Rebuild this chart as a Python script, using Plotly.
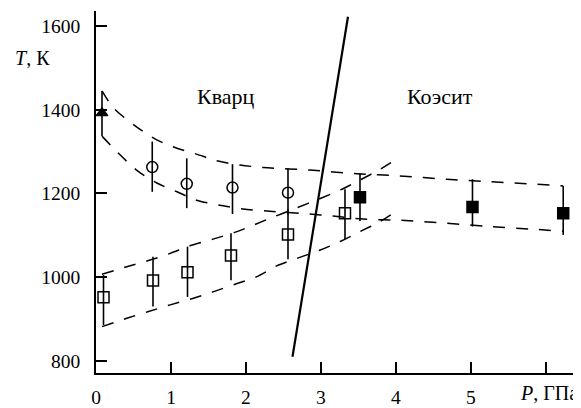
import plotly.graph_objects as go

# ---- data ----
tri_P = [0.08]
tri_T = [1392]
tri_ep = [53]
tri_em = [55]

circ_P = [0.75, 1.21, 1.82, 2.56]
circ_T = [1263, 1223, 1214, 1202]
circ_ep = [61, 61, 56, 58]
circ_em = [59, 58, 63, 52]

sq_P = [0.10, 0.76, 1.22, 1.80, 2.56, 3.32]
sq_T = [952, 992, 1012, 1052, 1102, 1153]
sq_ep = [53, 57, 61, 53, 60, 57]
sq_em = [66, 62, 59, 59, 59, 62]

fsq_P = [3.52, 5.02, 6.23]
fsq_T = [1191, 1168, 1153]
fsq_ep = [57, 66, 65]
fsq_em = [57, 47, 52]

# dashed envelopes
upQ_P = [0.08, 0.23, 0.54, 0.81, 1.08, 1.34, 1.61, 1.92, 2.23, 2.85, 3.48, 4.05, 4.68, 5.25, 5.88, 6.23]
upQ_T = [1445, 1405, 1359, 1328, 1308, 1294, 1278, 1268, 1262, 1256, 1247, 1242, 1234, 1228, 1222, 1218]
loQ_P = [0.08, 0.30, 0.54, 0.81, 1.08, 1.34, 1.65, 1.96, 2.28, 2.85, 3.16, 3.56, 4.05, 4.68, 5.25, 5.88, 6.23]
loQ_T = [1337, 1296, 1256, 1225, 1204, 1184, 1172, 1163, 1158, 1151, 1146, 1139, 1136, 1129, 1121, 1114, 1110]
upS_P = [0.08, 0.41, 0.72, 0.99, 1.25, 1.56, 1.88, 2.27, 2.68, 2.99, 3.30, 3.79, 4.00]
upS_T = [1007, 1025, 1041, 1057, 1075, 1091, 1109, 1137, 1166, 1188, 1212, 1258, 1281]
loS_P = [0.08, 0.41, 0.70, 0.99, 1.30, 1.56, 1.88, 2.14, 2.41, 2.68, 2.99, 3.25, 3.52, 3.79, 4.00]
loS_T = [882, 902, 918, 934, 950, 965, 985, 1001, 1027, 1045, 1065, 1085, 1109, 1133, 1157]

# phase boundary
bnd_P = [2.62, 3.36]
bnd_T = [810, 1622]

x_ticks = [0, 1, 2, 3, 4, 5, 6]
x_ticktext = ["0", "1", "2", "3", "4", "5", ""]
y_ticks = [800, 1000, 1200, 1400, 1600]

FONT = "'Liberation Serif', 'Times New Roman', 'DejaVu Serif', serif"
BLACK = "black"

fig = go.Figure()

dash = "12px,11px"
for xs, ys in [(upQ_P, upQ_T), (loQ_P, loQ_T), (upS_P, upS_T), (loS_P, loS_T)]:
    fig.add_trace(go.Scatter(x=xs, y=ys, mode="lines",
                             line=dict(color=BLACK, width=1.5, dash=dash, shape="spline", smoothing=0.8),
                             hoverinfo="skip"))

fig.add_trace(go.Scatter(x=bnd_P, y=bnd_T, mode="lines",
                         line=dict(color=BLACK, width=2.2)))

def pts(xs, ys, ep, em, symbol, size):
    fig.add_trace(go.Scatter(
        x=xs, y=ys, mode="markers",
        marker=dict(symbol=symbol, size=size, color=BLACK,
                    line=dict(color=BLACK, width=1.5)),
        error_y=dict(type="data", array=ep, arrayminus=em, symmetric=False,
                     color=BLACK, thickness=1.6, width=0),
    ))

pts(tri_P, tri_T, tri_ep, tri_em, "triangle-up", 10)
pts(circ_P, circ_T, circ_ep, circ_em, "circle-open", 11)
pts(sq_P, sq_T, sq_ep, sq_em, "square-open", 11)
pts(fsq_P, fsq_T, fsq_ep, fsq_em, "square", 11)

fig.add_annotation(x=1.74, y=1432, xref="x", yref="y", text="Кварц", showarrow=False,
                   font=dict(family=FONT, size=22, color=BLACK))
fig.add_annotation(x=4.59, y=1432, xref="x", yref="y", text="Коэсит", showarrow=False,
                   font=dict(family=FONT, size=22, color=BLACK))
fig.add_annotation(x=-0.172, y=0.870, xref="paper", yref="paper", text="<i>T</i>, К",
                   xanchor="left", yanchor="middle", showarrow=False,
                   font=dict(family=FONT, size=20, color=BLACK))
fig.add_annotation(x=0.997, y=-0.055, xref="paper", yref="paper", text="<i>P</i>, ГПа",
                   xanchor="right", yanchor="middle", showarrow=False,
                   font=dict(family=FONT, size=20, color=BLACK))

# page body has an 8px margin: shrink the figure and margins to compensate
fig.update_layout(
    width=573, height=400,
    margin=dict(l=88, r=0, t=3, b=35),
    paper_bgcolor="white", plot_bgcolor="white",
    showlegend=False,
    font=dict(family=FONT, size=19.5, color=BLACK),
    xaxis=dict(range=[0, 6.467], tickvals=x_ticks, ticktext=x_ticktext,
               ticks="inside", ticklen=11, tickwidth=1.5, tickcolor=BLACK,
               showline=True, linecolor=BLACK, linewidth=1.8, showgrid=False,
               zeroline=False, ticklabelstandoff=6),
    yaxis=dict(range=[771.3, 1635.8], tickvals=y_ticks,
               ticks="inside", ticklen=11, tickwidth=1.5, tickcolor=BLACK,
               showline=True, linecolor=BLACK, linewidth=1.8, showgrid=False,
               zeroline=False, ticklabelstandoff=10),
)

fig.write_html("out.html")
